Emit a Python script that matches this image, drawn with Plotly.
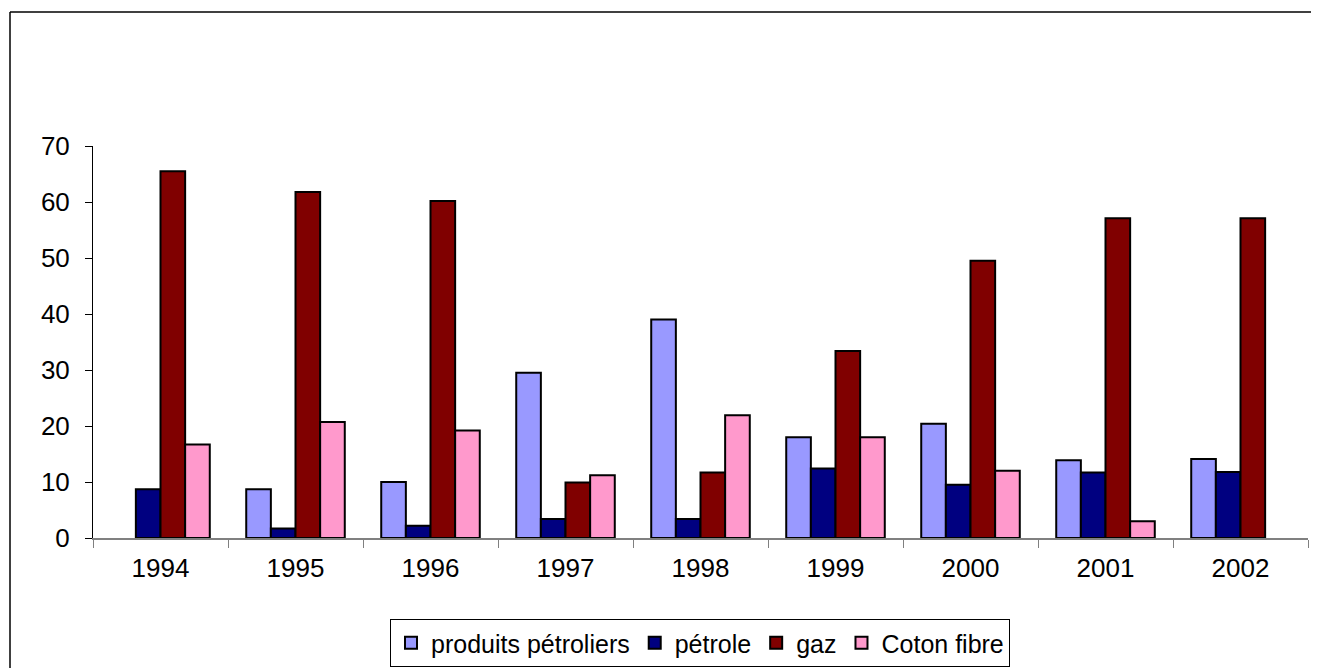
import plotly.graph_objects as go

years = ["1994", "1995", "1996", "1997", "1998", "1999", "2000", "2001", "2002"]
produits_petroliers = [None, 8.7, 10.0, 29.5, 39.0, 18.0, 20.4, 13.9, 14.1]
petrole = [8.7, 1.7, 2.2, 3.4, 3.4, 12.4, 9.5, 11.7, 11.8]
gaz = [65.5, 61.8, 60.2, 9.9, 11.7, 33.4, 49.5, 57.1, 57.1]
coton_fibre = [16.7, 20.7, 19.2, 11.2, 21.9, 18.0, 12.0, 3.0, None]

series = [
    ("produits pétroliers", produits_petroliers, "#9999FF"),
    ("pétrole", petrole, "#000080"),
    ("gaz", gaz, "#800000"),
    ("Coton fibre", coton_fibre, "#FF99CC"),
]

OFF = 8  # page body margin
W, H = 1319 - OFF, 668 - OFF
L, R, T, B = 93 - OFF, 1308 - OFF, 146 - OFF, 538 - OFF

fig = go.Figure()
for name, vals, col in series:
    fig.add_trace(go.Bar(
        x=years, y=vals, name=name,
        marker=dict(color=col, line=dict(color="black", width=2)),
    ))

pw = R - L
ph = B - T
def px_x(p):
    return (p - OFF - L) / pw
def px_y(p):
    return (B - (p - OFF)) / ph

fig.update_layout(
    width=W, height=H,
    margin=dict(l=L, r=W - R, t=T, b=H - B, autoexpand=False),
    paper_bgcolor="white", plot_bgcolor="white",
    barmode="group", bargap=0.27, bargroupgap=0,
    font=dict(family="Liberation Sans, Arial, sans-serif", size=25, color="black"),
    showlegend=True,
    legend=dict(
        orientation="h", x=px_x(700), xanchor="center", y=px_y(619), yanchor="top",
        bordercolor="black", borderwidth=1, bgcolor="white",
        font=dict(size=25, color="black"), itemwidth=30, tracegroupgap=0,
    ),
    xaxis=dict(
        showline=True, linecolor="#808080", linewidth=2,
        ticks="outside", tickson="boundaries", ticklen=8, tickcolor="#808080", tickwidth=1,
        showgrid=False, tickfont=dict(size=26, color="black"), ticklabelstandoff=6,
    ),
    yaxis=dict(
        range=[0, 70], dtick=10, showline=True, linecolor="black", linewidth=1,
        ticks="outside", ticklen=7, tickcolor="black",
        showgrid=False, zeroline=False, tickfont=dict(size=26, color="black"),
        ticklabelstandoff=10,
    ),
    shapes=[
        dict(type="line", xref="paper", yref="paper",
             x0=px_x(10), x1=px_x(1340), y0=px_y(12), y1=px_y(12),
             line=dict(color="black", width=1.5)),
        dict(type="line", xref="paper", yref="paper",
             x0=px_x(10), x1=px_x(10), y0=px_y(12), y1=px_y(690),
             line=dict(color="black", width=1.5)),
    ],
)

fig.write_html("out.html")
